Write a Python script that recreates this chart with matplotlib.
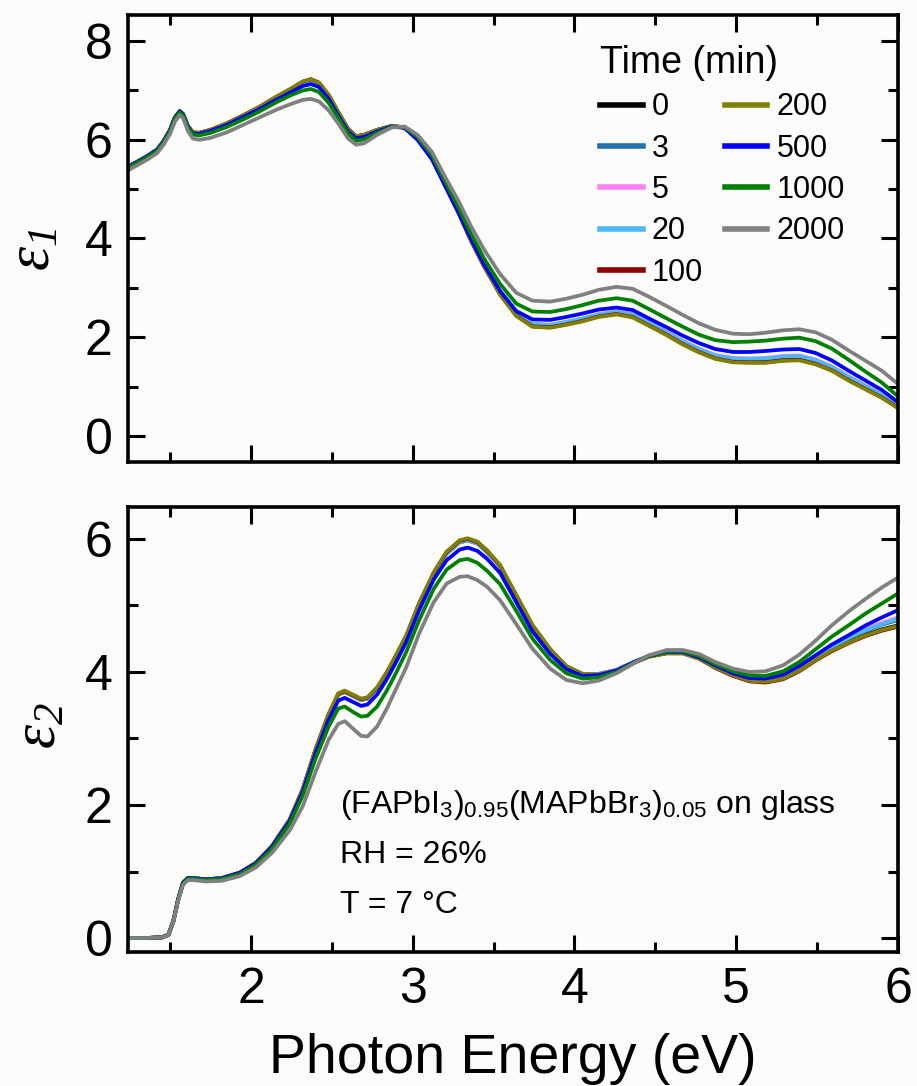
import matplotlib
matplotlib.use("Agg")
import matplotlib.pyplot as plt
from matplotlib.ticker import MultipleLocator
from matplotlib.lines import Line2D

plt.rcParams['font.family'] = ['Liberation Sans', 'DejaVu Sans']
plt.rcParams['mathtext.fontset'] = 'custom'
plt.rcParams['mathtext.rm'] = 'Liberation Serif:italic'
plt.rcParams['mathtext.it'] = 'Liberation Serif:italic'
plt.rcParams['mathtext.bf'] = 'Liberation Serif:bold'

# ---------------- data ----------------
times = ['0', '3', '5', '20', '100', '200', '500', '1000', '2000']
colors = ['#000000', '#2370ad', '#ff80f0', '#4db8f5', '#8b0000',
          '#808000', '#0000ff', '#008000', '#808080']

E1 = [1.24, 1.30, 1.36, 1.42, 1.46, 1.50, 1.53, 1.56, 1.58, 1.61, 1.64, 1.68, 1.75, 1.85, 1.95,
      2.05, 2.15, 2.25, 2.32, 2.37, 2.42, 2.48, 2.54, 2.60, 2.65, 2.70, 2.78, 2.87, 2.95, 3.03,
      3.12, 3.20, 3.28, 3.36, 3.44, 3.54, 3.64, 3.74, 3.85, 3.95, 4.05, 4.15, 4.26, 4.36, 4.46,
      4.57, 4.67, 4.77, 4.87, 4.98, 5.08, 5.18, 5.29, 5.39, 5.49, 5.59, 5.70, 5.80, 5.90, 6.00]

eps1_0 = [5.45, 5.56, 5.67, 5.80, 5.97, 6.20, 6.45, 6.58, 6.52, 6.28, 6.15, 6.14, 6.20, 6.33, 6.49,
          6.66, 6.85, 7.03, 7.17, 7.22, 7.15, 6.90, 6.55, 6.22, 6.07, 6.10, 6.20, 6.28, 6.25, 6.02,
          5.62, 5.08, 4.55, 3.97, 3.45, 2.88, 2.45, 2.24, 2.22, 2.28, 2.35, 2.44, 2.49, 2.43, 2.26,
          2.07, 1.88, 1.72, 1.59, 1.52, 1.51, 1.51, 1.55, 1.56, 1.48, 1.35, 1.14, 0.97, 0.80, 0.58]
eps1_3 = [5.45, 5.56, 5.67, 5.80, 5.97, 6.20, 6.45, 6.58, 6.52, 6.28, 6.15, 6.14, 6.20, 6.33, 6.49,
          6.66, 6.85, 7.03, 7.16, 7.21, 7.14, 6.89, 6.55, 6.22, 6.07, 6.10, 6.20, 6.28, 6.25, 6.02,
          5.62, 5.08, 4.55, 3.98, 3.46, 2.89, 2.47, 2.26, 2.24, 2.30, 2.37, 2.46, 2.51, 2.45, 2.28,
          2.09, 1.90, 1.74, 1.61, 1.55, 1.54, 1.54, 1.58, 1.59, 1.51, 1.38, 1.17, 0.99, 0.82, 0.60]
eps1_5 = [5.45, 5.56, 5.67, 5.80, 5.97, 6.20, 6.45, 6.58, 6.52, 6.28, 6.15, 6.14, 6.20, 6.33, 6.49,
          6.66, 6.85, 7.02, 7.15, 7.20, 7.13, 6.88, 6.54, 6.21, 6.06, 6.09, 6.20, 6.28, 6.25, 6.02,
          5.62, 5.09, 4.56, 3.99, 3.47, 2.90, 2.48, 2.27, 2.25, 2.31, 2.38, 2.47, 2.52, 2.47, 2.30,
          2.11, 1.93, 1.77, 1.64, 1.58, 1.57, 1.58, 1.62, 1.63, 1.55, 1.41, 1.20, 1.02, 0.84, 0.62]
eps1_20 = [5.45, 5.56, 5.67, 5.80, 5.97, 6.20, 6.45, 6.58, 6.52, 6.28, 6.15, 6.14, 6.20, 6.33, 6.49,
           6.66, 6.85, 7.02, 7.15, 7.20, 7.13, 6.88, 6.54, 6.21, 6.06, 6.09, 6.20, 6.28, 6.25, 6.02,
           5.62, 5.09, 4.56, 3.99, 3.47, 2.90, 2.48, 2.27, 2.25, 2.31, 2.38, 2.46, 2.51, 2.46, 2.29,
           2.10, 1.92, 1.76, 1.63, 1.57, 1.56, 1.57, 1.61, 1.62, 1.54, 1.40, 1.19, 1.01, 0.83, 0.61]
eps1_100 = [5.45, 5.56, 5.67, 5.80, 5.97, 6.20, 6.45, 6.58, 6.52, 6.28, 6.15, 6.14, 6.20, 6.33, 6.49,
            6.66, 6.86, 7.04, 7.18, 7.23, 7.16, 6.91, 6.56, 6.22, 6.07, 6.10, 6.20, 6.28, 6.25, 6.02,
            5.62, 5.08, 4.54, 3.96, 3.44, 2.87, 2.44, 2.22, 2.20, 2.26, 2.33, 2.42, 2.47, 2.41, 2.24,
            2.05, 1.86, 1.70, 1.57, 1.50, 1.49, 1.49, 1.53, 1.54, 1.46, 1.33, 1.12, 0.95, 0.78, 0.57]
eps1_200 = [5.45, 5.56, 5.67, 5.80, 5.97, 6.20, 6.45, 6.58, 6.52, 6.28, 6.15, 6.14, 6.20, 6.33, 6.49,
            6.66, 6.86, 7.04, 7.18, 7.23, 7.16, 6.91, 6.56, 6.22, 6.07, 6.10, 6.20, 6.28, 6.25, 6.02,
            5.62, 5.08, 4.54, 3.96, 3.44, 2.86, 2.43, 2.21, 2.19, 2.25, 2.32, 2.41, 2.46, 2.40, 2.23,
            2.04, 1.85, 1.69, 1.56, 1.49, 1.48, 1.48, 1.52, 1.53, 1.45, 1.32, 1.11, 0.94, 0.77, 0.56]
eps1_500 = [5.45, 5.56, 5.67, 5.80, 5.97, 6.20, 6.45, 6.58, 6.52, 6.27, 6.13, 6.12, 6.18, 6.30, 6.46,
            6.62, 6.80, 6.97, 7.09, 7.13, 7.07, 6.83, 6.49, 6.17, 6.03, 6.06, 6.17, 6.27, 6.24, 6.00,
            5.60, 5.07, 4.55, 3.99, 3.48, 2.94, 2.53, 2.36, 2.35, 2.41, 2.48, 2.56, 2.60, 2.55, 2.38,
            2.20, 2.03, 1.88, 1.76, 1.70, 1.70, 1.72, 1.75, 1.76, 1.68, 1.53, 1.31, 1.12, 0.93, 0.68]
eps1_1000 = [5.43, 5.54, 5.65, 5.78, 5.95, 6.18, 6.43, 6.56, 6.50, 6.25, 6.11, 6.09, 6.14, 6.26, 6.41,
             6.57, 6.75, 6.91, 7.00, 7.03, 6.97, 6.75, 6.44, 6.13, 5.98, 6.01, 6.14, 6.26, 6.26, 6.06,
             5.68, 5.16, 4.65, 4.10, 3.60, 3.08, 2.68, 2.52, 2.51, 2.57, 2.65, 2.74, 2.79, 2.74, 2.57,
             2.38, 2.21, 2.05, 1.94, 1.90, 1.91, 1.93, 1.97, 1.99, 1.92, 1.77, 1.53, 1.30, 1.08, 0.80]
eps1_2000 = [5.38, 5.49, 5.60, 5.73, 5.90, 6.12, 6.37, 6.50, 6.44, 6.18, 6.03, 6.00, 6.04, 6.15, 6.30,
             6.45, 6.60, 6.73, 6.81, 6.83, 6.78, 6.60, 6.33, 6.03, 5.90, 5.93, 6.10, 6.25, 6.27, 6.10,
             5.75, 5.25, 4.78, 4.25, 3.78, 3.28, 2.90, 2.74, 2.72, 2.78, 2.86, 2.96, 3.02, 2.98, 2.82,
             2.63, 2.45, 2.28, 2.15, 2.07, 2.06, 2.09, 2.14, 2.16, 2.10, 1.95, 1.72, 1.52, 1.32, 1.05]

E2 = [1.24, 1.35, 1.45, 1.49, 1.52, 1.55, 1.58, 1.61, 1.65, 1.72, 1.82, 1.93, 2.03, 2.13, 2.24,
      2.32, 2.40, 2.48, 2.54, 2.58, 2.63, 2.68, 2.72, 2.78, 2.84, 2.90, 2.96, 3.04, 3.13, 3.21,
      3.29, 3.34, 3.40, 3.46, 3.54, 3.64, 3.74, 3.85, 3.95, 4.05, 4.15, 4.26, 4.36, 4.46, 4.57,
      4.67, 4.77, 4.87, 4.98, 5.08, 5.18, 5.29, 5.39, 5.49, 5.59, 5.70, 5.80, 5.90, 6.00]

eps2_0 = [0.00, 0.00, 0.01, 0.05, 0.25, 0.58, 0.83, 0.90, 0.90, 0.88, 0.90, 0.98, 1.13, 1.38, 1.78,
          2.23, 2.83, 3.35, 3.66, 3.70, 3.64, 3.58, 3.60, 3.75, 3.98, 4.25, 4.53, 5.02, 5.48, 5.78,
          5.95, 5.98, 5.93, 5.80, 5.59, 5.14, 4.69, 4.33, 4.08, 3.97, 3.97, 4.03, 4.14, 4.24, 4.29,
          4.29, 4.21, 4.08, 3.96, 3.88, 3.86, 3.91, 4.03, 4.19, 4.33, 4.46, 4.56, 4.64, 4.70]
eps2_3 = [0.00, 0.00, 0.01, 0.05, 0.25, 0.58, 0.83, 0.90, 0.90, 0.88, 0.90, 0.98, 1.13, 1.38, 1.78,
          2.23, 2.83, 3.35, 3.66, 3.70, 3.64, 3.58, 3.60, 3.75, 3.98, 4.25, 4.53, 5.02, 5.48, 5.78,
          5.95, 5.98, 5.93, 5.80, 5.59, 5.14, 4.69, 4.33, 4.08, 3.97, 3.97, 4.03, 4.14, 4.24, 4.29,
          4.29, 4.21, 4.08, 3.96, 3.89, 3.88, 3.93, 4.06, 4.22, 4.37, 4.51, 4.62, 4.71, 4.78]
eps2_5 = [0.00, 0.00, 0.01, 0.05, 0.25, 0.58, 0.83, 0.90, 0.90, 0.88, 0.90, 0.98, 1.13, 1.38, 1.78,
          2.23, 2.83, 3.35, 3.66, 3.70, 3.64, 3.58, 3.60, 3.75, 3.98, 4.25, 4.53, 5.02, 5.48, 5.78,
          5.95, 5.98, 5.93, 5.80, 5.59, 5.14, 4.69, 4.33, 4.08, 3.97, 3.97, 4.03, 4.14, 4.24, 4.29,
          4.29, 4.21, 4.08, 3.97, 3.89, 3.88, 3.94, 4.07, 4.24, 4.39, 4.53, 4.65, 4.74, 4.82]
eps2_20 = [0.00, 0.00, 0.01, 0.05, 0.25, 0.58, 0.83, 0.90, 0.90, 0.88, 0.90, 0.98, 1.13, 1.38, 1.78,
           2.23, 2.83, 3.35, 3.66, 3.70, 3.64, 3.58, 3.60, 3.75, 3.98, 4.25, 4.53, 5.02, 5.48, 5.78,
           5.95, 5.98, 5.93, 5.80, 5.59, 5.14, 4.69, 4.33, 4.08, 3.97, 3.97, 4.03, 4.14, 4.24, 4.29,
           4.29, 4.21, 4.08, 3.96, 3.89, 3.88, 3.93, 4.06, 4.23, 4.38, 4.52, 4.63, 4.72, 4.80]
eps2_100 = [0.00, 0.00, 0.01, 0.05, 0.25, 0.58, 0.83, 0.90, 0.90, 0.88, 0.90, 0.98, 1.13, 1.38, 1.78,
            2.23, 2.84, 3.36, 3.67, 3.71, 3.65, 3.59, 3.61, 3.76, 3.99, 4.26, 4.54, 5.03, 5.49, 5.80,
            5.97, 6.00, 5.95, 5.82, 5.60, 5.15, 4.70, 4.34, 4.08, 3.96, 3.96, 4.02, 4.13, 4.23, 4.28,
            4.28, 4.20, 4.06, 3.94, 3.86, 3.84, 3.89, 4.01, 4.17, 4.31, 4.44, 4.54, 4.62, 4.68]
eps2_200 = [0.00, 0.00, 0.01, 0.05, 0.25, 0.58, 0.83, 0.90, 0.90, 0.88, 0.90, 0.98, 1.13, 1.38, 1.78,
            2.24, 2.84, 3.37, 3.68, 3.72, 3.66, 3.60, 3.62, 3.77, 4.00, 4.27, 4.55, 5.04, 5.50, 5.81,
            5.98, 6.01, 5.96, 5.83, 5.61, 5.16, 4.71, 4.34, 4.09, 3.97, 3.96, 4.02, 4.13, 4.23, 4.28,
            4.28, 4.20, 4.07, 3.95, 3.87, 3.85, 3.90, 4.02, 4.18, 4.32, 4.45, 4.55, 4.63, 4.69]
eps2_500 = [0.00, 0.00, 0.01, 0.05, 0.25, 0.58, 0.83, 0.90, 0.90, 0.88, 0.90, 0.98, 1.12, 1.37, 1.76,
            2.20, 2.78, 3.28, 3.57, 3.61, 3.55, 3.49, 3.51, 3.66, 3.89, 4.16, 4.45, 4.93, 5.39, 5.68,
            5.84, 5.87, 5.82, 5.70, 5.49, 5.05, 4.61, 4.27, 4.04, 3.94, 3.95, 4.02, 4.14, 4.24, 4.30,
            4.30, 4.22, 4.10, 3.98, 3.91, 3.90, 3.96, 4.09, 4.25, 4.41, 4.56, 4.70, 4.82, 4.93]
eps2_1000 = [0.00, 0.00, 0.01, 0.05, 0.25, 0.57, 0.82, 0.89, 0.89, 0.87, 0.89, 0.96, 1.10, 1.34, 1.72,
             2.14, 2.70, 3.18, 3.45, 3.48, 3.40, 3.33, 3.34, 3.48, 3.72, 4.00, 4.30, 4.78, 5.25, 5.54,
             5.68, 5.70, 5.64, 5.52, 5.32, 4.92, 4.50, 4.18, 3.98, 3.90, 3.92, 4.00, 4.13, 4.24, 4.31,
             4.31, 4.24, 4.12, 4.01, 3.95, 3.94, 4.01, 4.15, 4.34, 4.53, 4.71, 4.88, 5.03, 5.18]
eps2_2000 = [0.00, 0.00, 0.01, 0.05, 0.24, 0.56, 0.80, 0.87, 0.87, 0.85, 0.86, 0.93, 1.06, 1.28, 1.62,
             1.98, 2.50, 2.98, 3.22, 3.26, 3.15, 3.04, 3.03, 3.18, 3.45, 3.76, 4.07, 4.58, 5.05, 5.33,
             5.43, 5.44, 5.38, 5.28, 5.08, 4.72, 4.35, 4.05, 3.88, 3.83, 3.87, 3.98, 4.12, 4.25, 4.33,
             4.33, 4.27, 4.15, 4.05, 4.00, 4.01, 4.10, 4.26, 4.47, 4.70, 4.92, 5.10, 5.27, 5.42]

eps1_series = [eps1_0, eps1_3, eps1_5, eps1_20, eps1_100, eps1_200, eps1_500, eps1_1000, eps1_2000]
eps2_series = [eps2_0, eps2_3, eps2_5, eps2_20, eps2_100, eps2_200, eps2_500, eps2_1000, eps2_2000]

sample_text = (r'(FAPbI$_\mathregular{3}$)$_\mathregular{0.95}$'
               r'(MAPbBr$_\mathregular{3}$)$_\mathregular{0.05}$ on glass')
rh_text = 'RH = 26%'
t_text = 'T = 7 °C'
ylabel1 = r'$\varepsilon_{1}$'
ylabel2 = r'$\varepsilon_{2}$'
xlabel = 'Photon Energy (eV)'

# ---------------- figure ----------------
W, H = 917, 1086
bg = '#fbfbf9'
fig = plt.figure(figsize=(W / 100, H / 100), dpi=100, facecolor=bg)

def fx(px):
    return px / W

def fy(py):
    return 1 - py / H

L, R = 128, 898
ax1 = fig.add_axes([fx(L), fy(462), fx(R) - fx(L), fy(15) - fy(462)])
ax2 = fig.add_axes([fx(L), fy(952), fx(R) - fx(L), fy(507) - fy(952)])

lw = 2.7
for ax, xs, series in ((ax1, E1, eps1_series), (ax2, E2, eps2_series)):
    ax.set_facecolor(bg)
    for ys, c in zip(series, colors):
        ax.plot(xs, ys, color=c, lw=lw, solid_joinstyle='round', solid_capstyle='round')
    ax.set_xlim(1.24, 6.0)
    ax.xaxis.set_major_locator(MultipleLocator(1))
    ax.xaxis.set_minor_locator(MultipleLocator(0.5))
    ax.yaxis.set_major_locator(MultipleLocator(2))
    ax.yaxis.set_minor_locator(MultipleLocator(1))
    ax.tick_params(which='both', direction='in', top=True, right=True, width=2.2,
                   labelsize=36, pad=11, colors='black')
    ax.tick_params(which='major', length=12)
    ax.tick_params(which='minor', length=7)
    for s in ax.spines.values():
        s.set_linewidth(2.6)

ax1.set_ylim(-0.53, 8.53)
ax2.set_ylim(-0.21, 6.48)
ax1.tick_params(labelbottom=False)
ax2.set_xticks([2, 3, 4, 5, 6])

# axis labels
fig.text(fx(513), fy(1073), xlabel, fontsize=40, ha='center', va='baseline')
fig.text(fx(34), fy(250), ylabel1, fontsize=44, rotation=90,
         ha='center', va='center')
fig.text(fx(40), fy(726), ylabel2, fontsize=44, rotation=90,
         ha='center', va='center')

# legend
handles = [Line2D([], [], color=c, lw=4) for c in colors]
leg = fig.legend(handles, times, ncol=2, title='Time (min)', frameon=False,
                 fontsize=22, title_fontsize=27, alignment='left',
                 loc='upper left', bbox_to_anchor=(fx(600), fy(45)),
                 borderpad=0, handlelength=1.4, handletextpad=0.3,
                 columnspacing=0.7, labelspacing=0.37, borderaxespad=0)

# annotation
fig.text(fx(340), fy(813), sample_text, fontsize=23, va='baseline')
fig.text(fx(340), fy(863), rh_text, fontsize=23, va='baseline')
fig.text(fx(340), fy(913), t_text, fontsize=23, va='baseline')

fig.savefig('out.png', dpi=100, facecolor=bg)
